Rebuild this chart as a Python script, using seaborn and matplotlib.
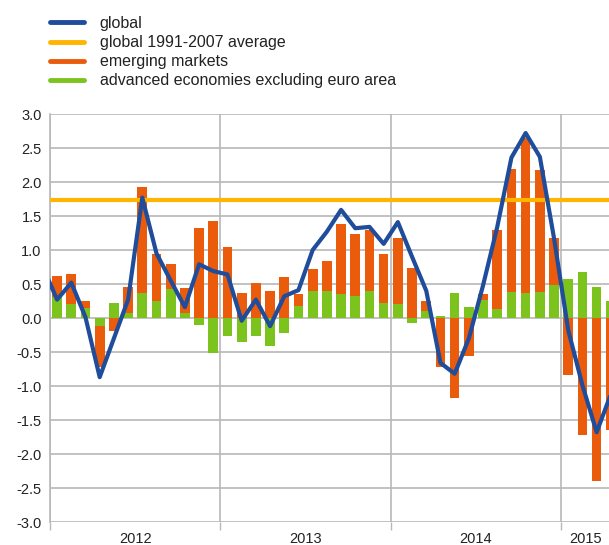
import numpy as np
import pandas as pd
import seaborn as sns
import matplotlib
matplotlib.use("Agg")
import matplotlib.pyplot as plt
from matplotlib.lines import Line2D
from matplotlib.ticker import FixedLocator, MultipleLocator

# monthly data, Jan 2012 .. Apr 2015
advanced = [0.31, 0.20, 0.14, -0.12, 0.22, 0.08, 0.37, 0.25, 0.42, 0.08, -0.10, -0.51,
            -0.27, -0.35, -0.26, -0.41, -0.22, 0.17, 0.39, 0.40, 0.35, 0.32, 0.39, 0.22,
            0.20, -0.07, 0.10, 0.03, 0.37, 0.16, 0.27, 0.13, 0.38, 0.37, 0.38, 0.48,
            0.57, 0.68, 0.45, 0.25]
emerging = [0.31, 0.44, 0.11, -0.60, -0.19, 0.37, 1.56, 0.69, 0.38, 0.36, 1.32, 1.42,
            1.05, 0.37, 0.51, 0.39, 0.61, 0.19, 0.33, 0.44, 1.03, 0.91, 0.91, 0.72,
            0.97, 0.74, 0.15, -0.72, -1.18, -0.56, 0.09, 1.17, 1.81, 2.27, 1.79, 0.70,
            -0.84, -1.72, -2.39, -1.65]
# global line, starting one month before the first bar (Dec 2011)
global_vals = [0.75, 0.27, 0.52, 0.01, -0.87, -0.30, 0.27, 1.77, 0.95, 0.55, 0.16, 0.79, 0.69,
               0.64, -0.04, 0.27, -0.12, 0.32, 0.41, 1.00, 1.27, 1.59, 1.32, 1.34, 1.09,
               1.41, 0.90, 0.40, -0.66, -0.82, -0.30, 0.48, 1.34, 2.36, 2.72, 2.37, 1.17,
               -0.18, -0.99, -1.68, -1.12]
global_avg = 1.74
year_labels = ["2012", "2013", "2014", "2015"]
legend_labels = ["global", "global 1991-2007 average", "emerging markets",
                 "advanced economies excluding euro area"]

C_BLUE = "#1f4d9c"
C_AVG = "#ffb400"
C_EM = "#ea5b0c"
C_ADV = "#7dc31e"
GRID = "#b8b8b8"

months = np.arange(len(advanced))
adv = np.array(advanced)
em = np.array(emerging)
em_extent = np.where(np.sign(adv) == np.sign(em), adv + em, em)
bars = pd.DataFrame({"m": months, "adv": adv, "em_ext": em_extent})
line = pd.DataFrame({"m": np.arange(-1, len(global_vals) - 1), "g": global_vals})

sns.set_theme(style="white")
plt.rcParams["font.family"] = ["Liberation Sans", "DejaVu Sans"]

fig = plt.figure(figsize=(6.09, 5.45), dpi=100)
ax = fig.add_axes([50 / 609, 23 / 545, 1 - 50 / 609, (522 - 114) / 545])

sns.barplot(data=bars, x="m", y="em_ext", native_scale=True, color=C_EM,
            saturation=1, width=0.68, ax=ax, zorder=2, linewidth=0)
sns.barplot(data=bars, x="m", y="adv", native_scale=True, color=C_ADV,
            saturation=1, width=0.68, ax=ax, zorder=3, linewidth=0)
ax.axhline(global_avg, color=C_AVG, lw=3.0, zorder=4)
sns.lineplot(data=line, x="m", y="g", color=C_BLUE, lw=3.0, ax=ax, zorder=5)

ax.set_xlim(-0.5, 38.87)
ax.set_ylim(-3.0, 3.0)
ax.yaxis.set_major_locator(MultipleLocator(0.5))
ax.set_yticklabels([f"{v:.1f}" for v in ax.get_yticks()])
ax.set_xlabel("")
ax.set_ylabel("")

ax.xaxis.set_major_locator(FixedLocator([5.5, 17.5, 29.5, 37.2]))
ax.set_xticklabels(year_labels)
ax.xaxis.set_minor_locator(FixedLocator([-0.5, 11.5, 23.5, 35.5]))
ax.tick_params(axis="x", which="major", length=0, pad=7, labelsize=10.5, labelcolor="#222222")
ax.tick_params(axis="x", which="minor", length=6, width=1, color=GRID, direction="out", bottom=True)
ax.tick_params(axis="y", length=0, pad=6, labelsize=10.5, labelcolor="#222222")

ax.grid(axis="y", which="major", color=GRID, lw=1.2, zorder=0)
ax.grid(axis="x", which="minor", color=GRID, lw=1.2, zorder=0)
ax.grid(axis="x", which="major", visible=False)
ax.set_axisbelow(True)
for s in ["top", "right", "bottom"]:
    ax.spines[s].set_visible(False)
ax.spines["left"].set_color(GRID)
ax.spines["left"].set_linewidth(1.2)

handles = [Line2D([], [], color=c, lw=3.5) for c in [C_BLUE, C_AVG, C_EM, C_ADV]]
fig.legend(handles, legend_labels, loc="upper left", bbox_to_anchor=(50 / 609, 1 - 16 / 545),
           frameon=False, fontsize=11.5, handlelength=2.1, handletextpad=1.0,
           labelspacing=0.26, borderpad=0, borderaxespad=0, labelcolor="#222222")

fig.savefig("out.png", dpi=100)
